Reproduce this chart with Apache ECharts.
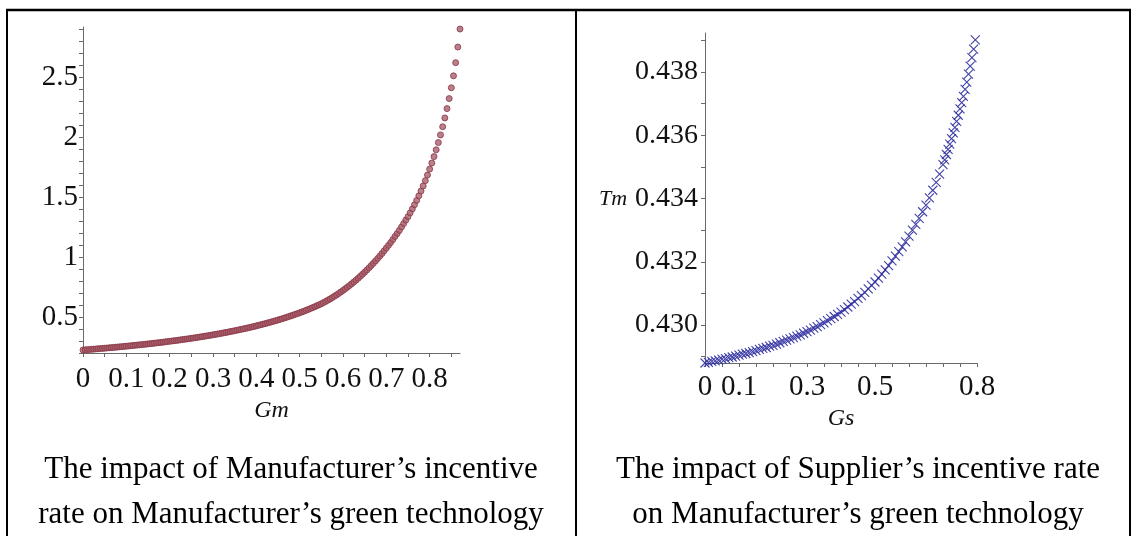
<!DOCTYPE html>
<html>
<head>
<meta charset="utf-8">
<script src="https://cdn.jsdelivr.net/npm/echarts@6/dist/echarts.min.js"></script>
<style>
  html, body { margin: 0; padding: 0; background: #ffffff; }
  #chart { width: 1137px; height: 536px; }
</style>
</head>
<body>
<div id="chart"></div>
<script>
// Manufacturer's incentive rate Gm and the resulting green technology level
const gmValues = [
  0.000, 0.005, 0.010, 0.015, 0.020, 0.025, 0.030, 0.035, 0.040, 0.045,
  0.050, 0.055, 0.060, 0.065, 0.070, 0.075, 0.080, 0.085, 0.090, 0.095,
  0.100, 0.105, 0.110, 0.115, 0.120, 0.125, 0.130, 0.135, 0.140, 0.145,
  0.150, 0.155, 0.160, 0.165, 0.170, 0.175, 0.180, 0.185, 0.190, 0.195,
  0.200, 0.205, 0.210, 0.215, 0.220, 0.225, 0.230, 0.235, 0.240, 0.245,
  0.250, 0.255, 0.260, 0.265, 0.270, 0.275, 0.280, 0.285, 0.290, 0.295,
  0.300, 0.305, 0.310, 0.315, 0.320, 0.325, 0.330, 0.335, 0.340, 0.345,
  0.350, 0.355, 0.360, 0.365, 0.370, 0.375, 0.380, 0.385, 0.390, 0.395,
  0.400, 0.405, 0.410, 0.415, 0.420, 0.425, 0.430, 0.435, 0.440, 0.445,
  0.450, 0.455, 0.460, 0.465, 0.470, 0.475, 0.480, 0.485, 0.490, 0.495,
  0.500, 0.505, 0.510, 0.515, 0.520, 0.525, 0.530, 0.535, 0.540, 0.545,
  0.550, 0.555, 0.560, 0.565, 0.570, 0.575, 0.580, 0.585, 0.590, 0.595,
  0.600, 0.605, 0.610, 0.615, 0.620, 0.625, 0.630, 0.635, 0.640, 0.645,
  0.650, 0.655, 0.660, 0.665, 0.670, 0.675, 0.680, 0.685, 0.690, 0.695,
  0.700, 0.705, 0.710, 0.715, 0.720, 0.725, 0.730, 0.735, 0.740, 0.745,
  0.750, 0.755, 0.760, 0.765, 0.770, 0.775, 0.780, 0.785, 0.790, 0.795,
  0.800, 0.805, 0.810, 0.815, 0.820, 0.825, 0.830, 0.835, 0.840, 0.845,
  0.850, 0.855, 0.860, 0.865, 0.870
];
const gmResponse = [
  0.2250, 0.2264, 0.2278, 0.2293, 0.2308, 0.2322, 0.2337, 0.2352, 0.2368, 0.2383,
  0.2399, 0.2415, 0.2431, 0.2447, 0.2464, 0.2480, 0.2497, 0.2514, 0.2531, 0.2549,
  0.2567, 0.2585, 0.2603, 0.2621, 0.2640, 0.2659, 0.2678, 0.2697, 0.2717, 0.2737,
  0.2757, 0.2777, 0.2798, 0.2819, 0.2840, 0.2861, 0.2883, 0.2905, 0.2928, 0.2951,
  0.2974, 0.2997, 0.3021, 0.3045, 0.3069, 0.3094, 0.3119, 0.3145, 0.3171, 0.3197,
  0.3224, 0.3251, 0.3278, 0.3306, 0.3335, 0.3364, 0.3393, 0.3422, 0.3452, 0.3483,
  0.3514, 0.3546, 0.3578, 0.3611, 0.3644, 0.3678, 0.3712, 0.3747, 0.3782, 0.3818,
  0.3855, 0.3893, 0.3931, 0.3970, 0.4009, 0.4049, 0.4090, 0.4132, 0.4174, 0.4217,
  0.4261, 0.4306, 0.4351, 0.4398, 0.4445, 0.4494, 0.4543, 0.4594, 0.4645, 0.4697,
  0.4750, 0.4805, 0.4861, 0.4918, 0.4976, 0.5036, 0.5096, 0.5158, 0.5221, 0.5286,
  0.5351, 0.5419, 0.5488, 0.5560, 0.5632, 0.5707, 0.5782, 0.5860, 0.5939, 0.6022,
  0.6105, 0.6201, 0.6298, 0.6399, 0.6501, 0.6611, 0.6722, 0.6841, 0.6961, 0.7087,
  0.7214, 0.7349, 0.7484, 0.7625, 0.7767, 0.7918, 0.8070, 0.8230, 0.8392, 0.8562,
  0.8734, 0.8916, 0.9100, 0.9286, 0.9473, 0.9672, 0.9873, 1.0081, 1.0291, 1.0516,
  1.0742, 1.0970, 1.1207, 1.1454, 1.1710, 1.1954, 1.2220, 1.2497, 1.2786, 1.3075,
  1.3364, 1.3681, 1.4010, 1.4357, 1.4719, 1.5101, 1.5500, 1.5922, 1.6365, 1.6834,
  1.7328, 1.7832, 1.8367, 1.8934, 1.9536, 2.0177, 2.0859, 2.1589, 2.2368, 2.3204,
  2.4103, 2.5100, 2.6200, 2.7500, 2.9000
];

// Supplier's incentive rate Gs and the resulting Tm
const gsValues = [
  0.00, 0.01, 0.02, 0.03, 0.04, 0.05, 0.06, 0.07, 0.08, 0.09,
  0.10, 0.11, 0.12, 0.13, 0.14, 0.15, 0.16, 0.17, 0.18, 0.19,
  0.20, 0.21, 0.22, 0.23, 0.24, 0.25, 0.26, 0.27, 0.28, 0.29,
  0.30, 0.31, 0.32, 0.33, 0.34, 0.35, 0.36, 0.37, 0.38, 0.39,
  0.40, 0.41, 0.42, 0.43, 0.44, 0.45, 0.46, 0.47, 0.48, 0.49,
  0.50, 0.51, 0.52, 0.53, 0.54, 0.55, 0.56, 0.57, 0.58, 0.59,
  0.60, 0.61, 0.62, 0.63, 0.64, 0.65, 0.66, 0.67, 0.68, 0.69,
  0.70, 0.705, 0.71, 0.715, 0.72, 0.725, 0.73, 0.735, 0.74, 0.745,
  0.75, 0.755, 0.76, 0.765, 0.77, 0.775, 0.78, 0.785, 0.79, 0.795,
  0.80
];
const tmResponse = [
  0.42880, 0.42882, 0.42885, 0.42887, 0.42889, 0.42892, 0.42894, 0.42897, 0.42899, 0.42902,
  0.42905, 0.42908, 0.42910, 0.42913, 0.42916, 0.42919, 0.42923, 0.42926, 0.42929, 0.42933,
  0.42936, 0.42940, 0.42944, 0.42948, 0.42952, 0.42956, 0.42960, 0.42965, 0.42969, 0.42974,
  0.42979, 0.42984, 0.42990, 0.42995, 0.43001, 0.43007, 0.43014, 0.43020, 0.43027, 0.43034,
  0.43041, 0.43049, 0.43057, 0.43066, 0.43074, 0.43084, 0.43093, 0.43103, 0.43114, 0.43125,
  0.43136, 0.43148, 0.43161, 0.43174, 0.43188, 0.43203, 0.43218, 0.43232, 0.43247, 0.43263,
  0.43281, 0.43300, 0.43318, 0.43337, 0.43358, 0.43379, 0.43402, 0.43426, 0.43451, 0.43477,
  0.43507, 0.43522, 0.43539, 0.43555, 0.43572, 0.43589, 0.43607, 0.43625, 0.43644, 0.43663,
  0.43683, 0.43703, 0.43723, 0.43745, 0.43768, 0.43793, 0.43818, 0.43845, 0.43872, 0.43901,
  0.43930
];

// Tick labels
const gmTickLabels = [0, 0.1, 0.2, 0.3, 0.4, 0.5, 0.6, 0.7, 0.8];
const leftValueLabels = [0.5, 1, 1.5, 2, 2.5];
const gsTickLabels = [0, 0.1, 0.3, 0.5, 0.8];
const tmTickLabels = [0.430, 0.432, 0.434, 0.436, 0.438];

// Captions under each panel
const captionLeft = ['The impact of Manufacturer\u2019s incentive', 'rate on Manufacturer\u2019s green technology'];
const captionRight = ['The impact of Supplier\u2019s incentive rate', 'on Manufacturer\u2019s green technology'];

const SERIF = "'Liberation Serif', 'Times New Roman', serif";
const AXIS_GREY = '#6a6a6a';

// evenly spaced tick positions (rounded to avoid float drift)
function tickRange(from, to, step, digits) {
  const out = [];
  const n = Math.round((to - from) / step);
  for (let i = 0; i <= n; i++) out.push(+(from + i * step).toFixed(digits));
  return out;
}

function valueAxis(extra) {
  const base = {
    type: 'value',
    axisLine: { show: true, onZero: false, lineStyle: { color: AXIS_GREY, width: 1 } },
    axisTick: { show: true, inside: false, length: 4, lineStyle: { color: AXIS_GREY, width: 1 } },
    splitLine: { show: false },
    axisLabel: { color: '#111', fontFamily: SERIF, fontSize: 29 }
  };
  return echarts.util.merge(base, extra, true);
}

const chart = echarts.init(document.getElementById('chart'), null, { renderer: 'canvas' });

const crossPath = 'path://M0,0L10,10M10,0L0,10';

chart.setOption({
  animation: false,
  backgroundColor: '#ffffff',
  grid: [
    { left: 83, top: 27, width: 377, height: 326, outerBoundsMode: 'none', containLabel: false },
    { left: 705, top: 33, width: 272, height: 330, outerBoundsMode: 'none', containLabel: false }
  ],
  xAxis: [
    valueAxis({
      gridIndex: 0, min: 0, max: 0.87,
      axisTick: { customValues: tickRange(0, 0.85, 0.05, 2) },
      axisLabel: { customValues: gmTickLabels, margin: 12, formatter: v => String(v) },
      name: 'Gm', nameLocation: 'middle', nameGap: 45,
      nameTextStyle: { fontFamily: SERIF, fontStyle: 'italic', fontSize: 24, color: '#111' }
    }),
    valueAxis({
      gridIndex: 1, min: 0, max: 0.8,
      axisTick: { customValues: tickRange(0, 0.8, 0.05, 2) },
      axisLabel: { customValues: gsTickLabels, margin: 10, formatter: v => String(v) },
      name: 'Gs', nameLocation: 'middle', nameGap: 35,
      nameTextStyle: { fontFamily: SERIF, fontStyle: 'italic', fontSize: 24, color: '#111' }
    })
  ],
  yAxis: [
    valueAxis({
      gridIndex: 0, min: 0.2, max: 2.917,
      axisTick: { customValues: tickRange(0.2, 2.9, 0.1, 1) },
      axisLabel: { customValues: leftValueLabels, margin: 5, formatter: v => String(v) }
    }),
    valueAxis({
      gridIndex: 1, min: 0.4288, max: 0.43923,
      axisTick: { customValues: tickRange(0.429, 0.439, 0.001, 3) },
      axisLabel: { customValues: tmTickLabels, margin: 7, fontSize: 28, formatter: v => v.toFixed(3) }
    })
  ],
  series: [
    {
      type: 'scatter', xAxisIndex: 0, yAxisIndex: 0, silent: true,
      data: gmValues.map((g, i) => [g, gmResponse[i]]),
      symbol: 'circle', symbolSize: 6,
      itemStyle: { color: '#a9606c', borderColor: '#8b3546', borderWidth: 1 }
    },
    {
      type: 'scatter', xAxisIndex: 1, yAxisIndex: 1, silent: true,
      data: gsValues.map((g, i) => [g, tmResponse[i]]),
      symbol: crossPath, symbolSize: 9,
      itemStyle: { color: 'rgba(0,0,0,0)', borderColor: '#2d2d9e', borderWidth: 1.1, opacity: 0.9 }
    }
  ],
  graphic: [
    // table frame
    { type: 'line', shape: { x1: 6, y1: 10, x2: 1131, y2: 10 }, style: { stroke: '#000', lineWidth: 2.5 } },
    { type: 'line', shape: { x1: 7, y1: 10, x2: 7, y2: 536 }, style: { stroke: '#000', lineWidth: 2 } },
    { type: 'line', shape: { x1: 576, y1: 10, x2: 576, y2: 536 }, style: { stroke: '#000', lineWidth: 2 } },
    { type: 'line', shape: { x1: 1130, y1: 10, x2: 1130, y2: 536 }, style: { stroke: '#000', lineWidth: 2 } },
    // vertical axis name of the right panel
    { type: 'text', x: 613, y: 199, style: { text: 'Tm', font: 'italic 22px ' + SERIF, fill: '#111', textAlign: 'center', textVerticalAlign: 'middle' } },
    // captions
    { type: 'text', x: 291, y: 470, style: { text: captionLeft[0], font: '31px ' + SERIF, fill: '#000', textAlign: 'center', textVerticalAlign: 'middle' } },
    { type: 'text', x: 291, y: 515, style: { text: captionLeft[1], font: '31px ' + SERIF, fill: '#000', textAlign: 'center', textVerticalAlign: 'middle' } },
    { type: 'text', x: 858, y: 470, style: { text: captionRight[0], font: '31px ' + SERIF, fill: '#000', textAlign: 'center', textVerticalAlign: 'middle' } },
    { type: 'text', x: 858, y: 515, style: { text: captionRight[1], font: '31px ' + SERIF, fill: '#000', textAlign: 'center', textVerticalAlign: 'middle' } }
  ]
});
</script>
</body>
</html>
